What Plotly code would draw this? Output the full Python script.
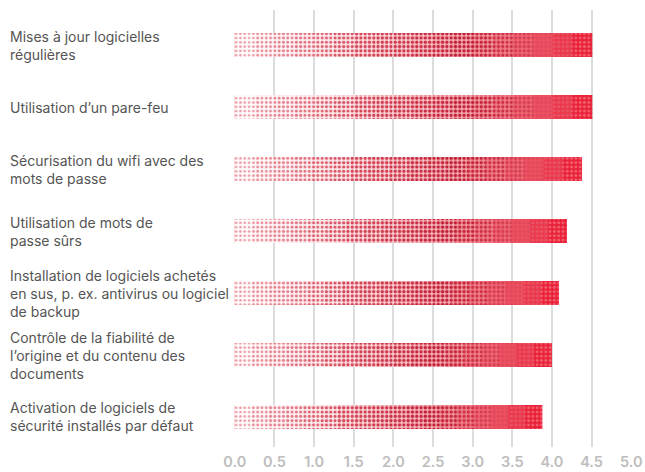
import plotly.graph_objects as go

# ── Data ─────────────────────────────────────────────────────────
labels = [
    "Mises à jour logicielles<br>régulières",
    "Utilisation d’un pare-feu",
    "Sécurisation du wifi avec des<br>mots de passe",
    "Utilisation de mots de<br>passe sûrs",
    "Installation de logiciels achetés<br>en sus, p. ex. antivirus ou logiciel<br>de backup",
    "Contrôle de la fiabilité de<br>l’origine et du contenu des<br>documents",
    "Activation de logiciels de<br>sécurité installés par défaut",
]
values = [4.51, 4.51, 4.38, 4.19, 4.09, 4.0, 3.88]
x_ticks = [0, 0.5, 1, 1.5, 2, 2.5, 3, 3.5, 4, 4.5, 5]

W, H = 645, 472
M_L, M_R, M_T, M_B = 234, 13, 10, 25

# halftone colour stops along a bar (position 0..1)
STOPS = [0.0, 0.35, 0.65, 1.0]
BG = [(255, 255, 255), (252, 226, 229), (245, 170, 177), (232, 20, 44)]
FG = [(240, 165, 174), (214, 72, 90), (192, 30, 52), (246, 100, 116)]
SOLID = [0.32, 0.45, 0.50, 0.38]
N_STEPS = 18


def interp(stops, vals, t):
    for i in range(len(stops) - 1):
        if t <= stops[i + 1]:
            f = (t - stops[i]) / (stops[i + 1] - stops[i])
            a, b = vals[i], vals[i + 1]
            if isinstance(a, tuple):
                return tuple(round(x + (y - x) * f) for x, y in zip(a, b))
            return a + (b - a) * f
    return vals[-1]


def rgb(c):
    return "rgb({},{},{})".format(*c)


fig = go.Figure()
# overlaid bars, darkest (full length) first, shorter lighter ones on top
for k in range(N_STEPS, 0, -1):
    t = (k - 0.5) / N_STEPS
    bg = rgb(interp(STOPS, BG, t))
    fig.add_trace(go.Bar(
        x=[v * k / N_STEPS for v in values],
        y=labels,
        orientation="h",
        width=0.387,
        marker=dict(
            color=bg,
            line=dict(width=0),
            pattern=dict(
                shape=".",
                bgcolor=bg,
                fgcolor=rgb(interp(STOPS, FG, t)),
                size=4.3,
                solidity=interp(STOPS, SOLID, t),
                fillmode="replace",
            ),
        ),
        hoverinfo="skip",
        showlegend=False,
    ))

# left-aligned category labels
for lab in labels:
    fig.add_annotation(
        x=-(M_L - 8) / (W - M_L - M_R), xref="paper",
        y=lab, yref="y",
        text=lab, showarrow=False,
        xanchor="left", yanchor="middle", align="left",
        font=dict(family="Inter, Roboto, sans-serif", size=14, color="#555555"),
    )

fig.update_layout(
    width=W, height=H,
    margin=dict(l=M_L, r=M_R, t=M_T, b=M_B, autoexpand=False),
    paper_bgcolor="white", plot_bgcolor="white",
    barmode="overlay",
    xaxis=dict(
        range=[-0.01, 5.01],
        tickvals=x_ticks,
        ticktext=[f"{t:.1f}" for t in x_ticks],
        showgrid=True, gridcolor="#dcdcdc", gridwidth=1.5,
        zeroline=False, showline=False,
        tickfont=dict(family="Inter, Roboto, sans-serif", size=14.5,
                      color="#bdbdbd", weight=600),
        ticks="", ticklabelstandoff=4, automargin=False,
        ticklabeloverflow="allow",
        fixedrange=True,
    ),
    yaxis=dict(
        categoryorder="array", categoryarray=labels[::-1],
        range=[-0.484, 6.565],
        showticklabels=False, showgrid=False, zeroline=False,
        ticks="", fixedrange=True, automargin=False,
    ),
)

# drop the default page margin so the figure sits at the window's corner
fig.write_html("out.html", config={"displayModeBar": False},
               post_script="document.body.style.margin = '0';")
